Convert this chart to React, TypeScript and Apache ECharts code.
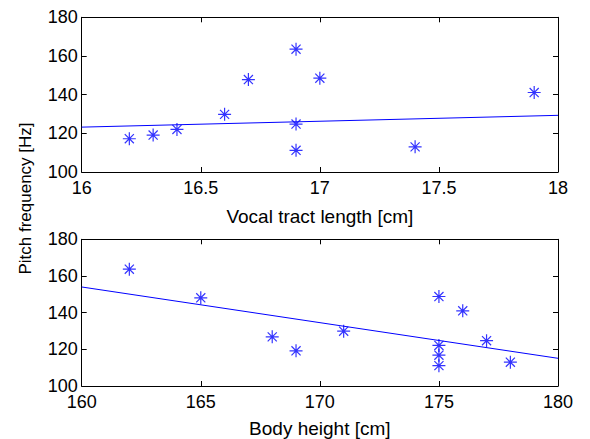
import React, { useEffect, useRef } from "react";
import * as echarts from "echarts";

// Top panel: vocal tract length [cm] vs pitch [Hz]
const vtlLength = [16.2, 16.3, 16.4, 16.6, 16.7, 16.9, 16.9, 16.9, 17.0, 17.4, 17.9];
const vtlPitch = [117.2, 119.1, 122.0, 129.8, 147.8, 163.5, 124.8, 111.2, 148.5, 113.0, 141.1];
const vtlFitX = [16, 18];
const vtlFitY = [123.2, 129.3];

// Bottom panel: body height [cm] vs pitch [Hz]
const bodyHeight = [162, 165, 168, 169, 171, 175, 175, 175, 175, 176, 177, 178];
const bodyPitch = [163.7, 148.1, 126.8, 119.2, 129.9, 148.8, 122.1, 116.8, 111.1, 141.0, 124.7, 113.0];
const bodyFitX = [160, 180];
const bodyFitY = [154.0, 115.1];

const yTicks = [100, 120, 140, 160, 180];
const vtlTicks = [16, 16.5, 17, 17.5, 18];
const bodyTicks = [160, 165, 170, 175, 180];

const BLUE = "#0000ff";
const FONT = "Liberation Sans, Arial, Helvetica, sans-serif";
const STAR = "path://M10 0 L10 20 M0 10 L20 10 M3 3 L17 17 M3 17 L17 3";

export default function App() {
  const ref = useRef<HTMLDivElement>(null);
  useEffect(() => {
    if (!ref.current) return;
    const chart = echarts.init(ref.current, undefined, { renderer: "svg" });

    const axisLine = { show: true, lineStyle: { color: "#000", width: 1 } };
    const axisTick = { show: true, inside: true, length: 5, lineStyle: { color: "#000", width: 1 } };
    const mkX = (gridIndex: number, ticks: number[], name: string, gap: number) => [
      {
        type: "value",
        gridIndex,
        position: "bottom",
        min: ticks[0],
        max: ticks[ticks.length - 1],
        interval: ticks[1] - ticks[0],
        name,
        nameLocation: "middle",
        nameGap: gap,
        nameTextStyle: { color: "#000", fontSize: 19, fontFamily: FONT },
        axisLine,
        axisTick,
        axisLabel: { color: "#000", fontSize: 18, fontFamily: FONT, margin: 7 },
        splitLine: { show: false },
      },
      {
        type: "value",
        gridIndex,
        position: "top",
        min: ticks[0],
        max: ticks[ticks.length - 1],
        interval: ticks[1] - ticks[0],
        axisLine,
        axisTick,
        axisLabel: { show: false },
        splitLine: { show: false },
      },
    ];
    const mkY = (gridIndex: number) => [
      {
        type: "value",
        gridIndex,
        position: "left",
        min: yTicks[0],
        max: yTicks[yTicks.length - 1],
        interval: yTicks[1] - yTicks[0],
        axisLine,
        axisTick,
        axisLabel: { color: "#000", fontSize: 18, fontFamily: FONT, margin: 4 },
        splitLine: { show: false },
      },
      {
        type: "value",
        gridIndex,
        position: "right",
        min: yTicks[0],
        max: yTicks[yTicks.length - 1],
        interval: yTicks[1] - yTicks[0],
        axisLine,
        axisTick,
        axisLabel: { show: false },
        splitLine: { show: false },
      },
    ];

    const scatter = (xi: number, yi: number, xs: number[], ys: number[]) => ({
      type: "scatter",
      xAxisIndex: xi,
      yAxisIndex: yi,
      data: xs.map((x, i) => [x, ys[i]]),
      symbol: STAR,
      symbolSize: 13,
      itemStyle: { color: "rgba(0,0,0,0)", borderColor: BLUE, borderWidth: 1.2 },
      z: 3,
    });
    const fit = (xi: number, yi: number, xs: number[], ys: number[]) => ({
      type: "line",
      xAxisIndex: xi,
      yAxisIndex: yi,
      data: xs.map((x, i) => [x, ys[i]]),
      showSymbol: false,
      symbol: "none",
      lineStyle: { color: BLUE, width: 1 },
      z: 2,
    });

    chart.setOption({
      animation: false,
      backgroundColor: "#fff",
      grid: [
        { left: 81.7, top: 17.3, width: 476.3, height: 154.7 },
        { left: 81.7, top: 239.3, width: 476.3, height: 154 },
      ],
      xAxis: [...mkX(0, vtlTicks, "Vocal tract length [cm]", 35), ...mkX(1, bodyTicks, "Body height [cm]", 33)],
      yAxis: [...mkY(0), ...mkY(1)],
      series: [
        fit(0, 0, vtlFitX, vtlFitY),
        scatter(0, 0, vtlLength, vtlPitch),
        fit(2, 2, bodyFitX, bodyFitY),
        scatter(2, 2, bodyHeight, bodyPitch),
      ],
      graphic: [
        {
          type: "text",
          x: 25,
          y: 198.5,
          rotation: Math.PI / 2,
          style: {
            text: "Pitch frequency [Hz]",
            fill: "#000",
            fontSize: 17,
            fontFamily: FONT,
            textAlign: "center",
            textVerticalAlign: "middle",
          },
        },
      ],
    });
    return () => chart.dispose();
  }, []);
  return (
    <div
      ref={ref}
      style={{ position: "fixed", left: 0, top: 0, width: 590, height: 439, background: "#fff" }}
    />
  );
}
